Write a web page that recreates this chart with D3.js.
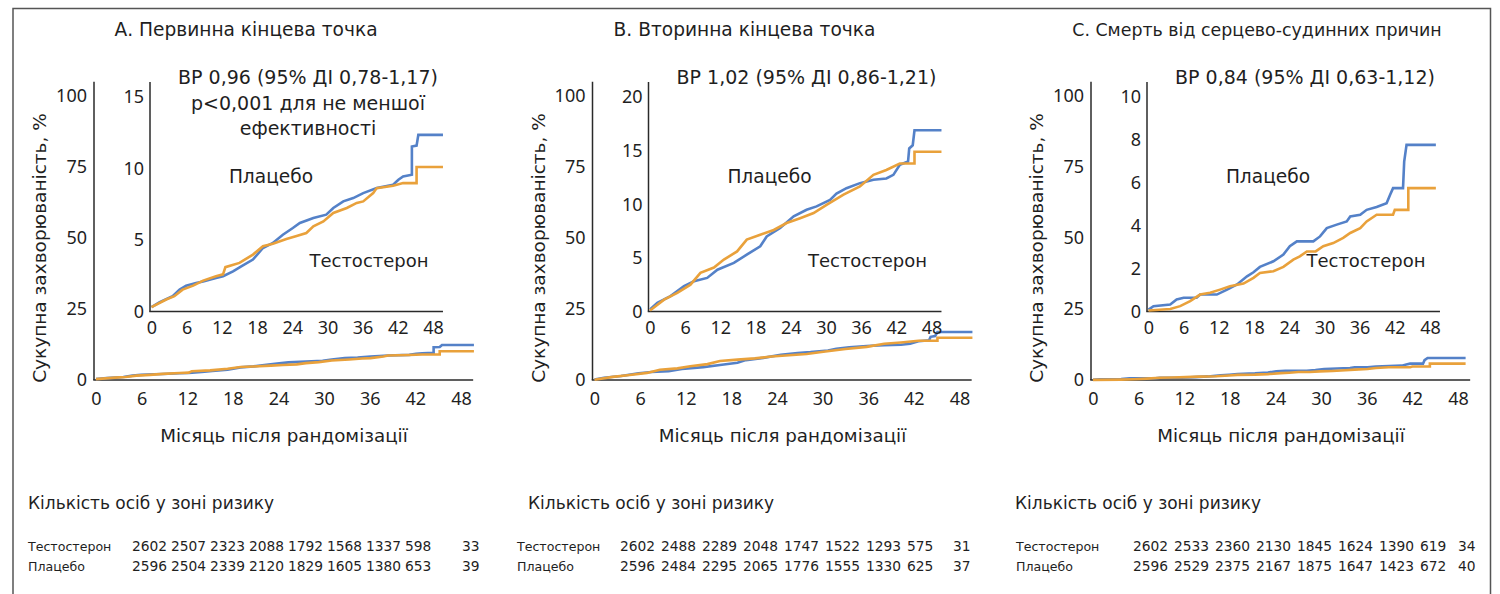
<!DOCTYPE html>
<html><head><meta charset="utf-8">
<script src="https://cdn.jsdelivr.net/npm/d3@7"></script>
<style>
body{margin:0;background:#fff;}
svg{display:block;}
</style></head><body>
<svg id="chart" width="1500" height="594"></svg>
<script>
// ---------- DATA ----------
const monthTicks = [0, 6, 12, 18, 24, 30, 36, 42, 48];
const mainPctTicks = [0, 25, 50, 75, 100];
const insetTicksA = [0, 5, 10, 15];
const insetTicksB = [0, 5, 10, 15, 20];
const insetTicksC = [0, 2, 4, 6, 8, 10];

const titles = ["А. Первинна кінцева точка", "В. Вторинна кінцева точка", "С. Смерть від серцево-судинних причин"];
const hrTexts = [
  ["ВР 0,96 (95% ДІ 0,78-1,17)", "p<0,001 для не меншої", "ефективності"],
  ["ВР 1,02 (95% ДІ 0,86-1,21)"],
  ["ВР 0,84 (95% ДІ 0,63-1,12)"]
];
const groupNames = ["Тестостерон", "Плацебо"];

// Panel A: cumulative incidence (%) by month
const aPlaceboMonths = [0,1.4,3.6,4.8,5.9,7.6,8.8,11,12.2,13.9,15.3,17.3,19.0,20.7,22.4,24.1,25.3,27.6,29.8,31.0,32.7,34.4,36.1,38.4,41.2,42.1,42.9,44.4,44.4,45.2,45.5,49.7];
const aPlaceboPct    = [0.3,0.65,1.07,1.53,1.8,2.0,2.1,2.35,2.47,2.8,3.16,3.63,4.44,4.79,5.37,5.84,6.19,6.54,6.77,7.24,7.7,7.93,8.28,8.63,8.86,9.21,9.44,9.56,11.54,11.6,12.35,12.35];
const aTestoMonths   = [0,2.5,3.9,5.3,7.1,8.8,11,12.2,12.6,15,17.3,19,20.7,23,24.6,26.4,27.6,29.3,31,33.3,35,36.1,37.8,38.4,41.2,42.9,45.2,45.2,49.7];
const aTestoPct      = [0.3,0.84,1.07,1.53,1.81,2.16,2.47,2.6,3.1,3.4,3.98,4.56,4.74,5.07,5.26,5.49,5.95,6.3,6.89,7.24,7.59,7.7,8.28,8.63,8.79,8.98,8.98,10.1,10.1];

// Panel B
const bPlaceboMonths = [0,1.25,3.5,5.8,7.5,9.75,11.5,14.3,16.5,18.8,19.9,22.2,24.5,26.7,28.4,30.7,31.8,33.5,35.8,38.1,40.3,41.5,42.6,44,44.2,44.8,45.1,49.7];
const bPlaceboPct    = [0.19,0.81,1.43,2.36,2.82,3.13,3.9,4.53,5.3,6.08,7.0,7.78,8.87,9.49,9.8,10.4,11.0,11.5,11.97,12.28,12.4,12.74,13.67,13.98,15.2,15.5,16.9,16.9];
const bTestoMonths   = [0,2.4,4.65,6.9,8.6,10.9,12.6,14.85,16.5,18.8,21.1,23.3,25.6,27.9,30.1,33,35.8,38.1,40.3,42.6,45.1,45.1,49.7];
const bTestoPct      = [0.1,1.1,1.74,2.5,3.6,4.1,4.84,5.6,6.7,7.16,7.6,8.25,8.7,9.18,9.95,10.9,11.66,12.74,13.2,13.8,13.8,14.9,14.9];

// Panel C
const cPlaceboMonths = [0,0.85,3.7,4.8,6,8.2,8.8,11.65,13.4,15.1,16.8,17.9,19,21.3,23,24.1,25.3,28.1,29.25,30.4,32.1,33.8,34.4,36.1,37.2,38.9,40.6,41.2,41.7,43.4,43.6,44,49];
const cPlaceboPct    = [0.09,0.25,0.33,0.56,0.64,0.64,0.79,0.79,1.02,1.26,1.64,1.83,2.08,2.34,2.65,3.04,3.27,3.27,3.5,3.89,4.05,4.2,4.43,4.51,4.74,4.87,5.05,5.44,5.75,5.75,6.99,7.77,7.77];
const cTestoMonths   = [0,3.7,5.4,7.1,8.8,10.5,12.2,13.9,16.2,17.9,19,21.3,23,24.7,25.8,27,28.5,29.8,31.5,33.2,34.4,36.1,37.2,38.9,41.7,42,44.3,44.3,49];
const cTestoPct      = [0.05,0.12,0.25,0.48,0.79,0.87,1.02,1.18,1.3,1.57,1.8,1.88,2.08,2.42,2.57,2.8,2.8,3.04,3.19,3.43,3.66,3.89,4.2,4.51,4.51,4.74,4.74,5.75,5.75];

// Numbers at risk
const riskTestoA   = [2602, 2507, 2323, 2088, 1792, 1568, 1337, 598, 33];
const riskPlaceboA = [2596, 2504, 2339, 2120, 1829, 1605, 1380, 653, 39];
const riskTestoB   = [2602, 2488, 2289, 2048, 1747, 1522, 1293, 575, 31];
const riskPlaceboB = [2596, 2484, 2295, 2065, 1776, 1555, 1330, 625, 37];
const riskTestoC   = [2602, 2533, 2360, 2130, 1845, 1624, 1390, 619, 34];
const riskPlaceboC = [2596, 2529, 2375, 2167, 1875, 1647, 1423, 672, 40];

// ---------- LAYOUT / STYLE ----------
const FONT = "'DejaVu Sans', sans-serif";
const TICKFONT = "'Noto Sans', sans-serif";
const TXT = "#1f1f1f";
const AX = "#2a2a2a";
const BLUE = "#5481c8";
const ORANGE = "#e9a13b";
const zip = (m, v) => m.map((d, i) => [d, v[i]]);

const panels = [
  { dx: 0, title: titles[0], titleX: 246, titleSize: 18.6, hr: hrTexts[0], insetTicks: insetTicksA,
    placebo: zip(aPlaceboMonths, aPlaceboPct), testo: zip(aTestoMonths, aTestoPct),
    riskT: riskTestoA, riskP: riskPlaceboA,
    table: { head: 28, lab: 28, start: 132, step: 39, last: 462 } },
  { dx: 498.5, title: titles[1], titleX: 246, titleSize: 18.6, hr: hrTexts[1], insetTicks: insetTicksB,
    placebo: zip(bPlaceboMonths, bPlaceboPct), testo: zip(bTestoMonths, bTestoPct),
    riskT: riskTestoB, riskP: riskPlaceboB,
    table: { head: 528, lab: 517, start: 620, step: 41, last: 953 } },
  { dx: 997, title: titles[2], titleX: 260, titleSize: 17.4, hr: hrTexts[2], insetTicks: insetTicksC,
    placebo: zip(cPlaceboMonths, cPlaceboPct), testo: zip(cTestoMonths, cTestoPct),
    riskT: riskTestoC, riskP: riskPlaceboC,
    table: { head: 1015, lab: 1016, start: 1133, step: 41, last: 1458 } }
];

const svg = d3.select("#chart");

// outer frame
svg.append("path")
  .attr("d", "M13,594 V8.5 H1490.5 V594")
  .attr("fill", "none").attr("stroke", "#555").attr("stroke-width", 1.5);

function styleAxisText(g, size) {
  g.selectAll("text").attr("font-family", TICKFONT).attr("font-size", size).attr("fill", TXT);
}
function label(parent, x, y, txt, size, anchor) {
  return parent.append("text").attr("x", x).attr("y", y)
    .attr("text-anchor", anchor || "middle").attr("font-family", FONT)
    .attr("font-size", size).attr("fill", TXT).text(txt);
}

panels.forEach(p => {
  const g = svg.append("g").attr("transform", `translate(${p.dx},0)`);

  // scales
  const xMain = d3.scaleLinear().domain([0, 48]).range([96, 461]);
  const yMain = d3.scaleLinear().domain([0, 100]).range([380, 96]);
  const insetMax = d3.max(p.insetTicks);
  const xIn = d3.scaleLinear().domain([0, 48]).range([151.5, 433]);
  const yIn = d3.scaleLinear().domain([0, insetMax]).range([311.5, 97]);

  // title
  label(g, p.titleX, 36, p.title, p.titleSize);

  // ---- main axes ----
  const gxM = g.append("g").attr("transform", `translate(0,${yMain(0)})`)
    .call(d3.axisBottom(xMain).tickValues(monthTicks).tickSize(0).tickPadding(12));
  gxM.select(".domain").remove();
  styleAxisText(gxM, 18);
  const gyM = g.append("g").attr("transform", `translate(${xMain(0) - 2},0)`)
    .call(d3.axisLeft(yMain).tickValues(mainPctTicks).tickSize(0).tickPadding(7));
  gyM.select(".domain").remove();
  styleAxisText(gyM, 18);

  g.append("line").attr("x1", xMain(0) - 2).attr("x2", xMain(0) - 2)
    .attr("y1", yMain(105)).attr("y2", yMain(0))
    .attr("stroke", AX).attr("stroke-width", 1.5);
  g.append("line").attr("x1", xMain(0) - 2.75).attr("x2", xMain(49.6))
    .attr("y1", yMain(0)).attr("y2", yMain(0))
    .attr("stroke", AX).attr("stroke-width", 1.5);

  // axis titles
  g.append("text").attr("transform", `translate(46,248) rotate(-90)`)
    .attr("text-anchor", "middle").attr("font-family", FONT).attr("font-size", 18.5)
    .attr("fill", TXT).text("Сукупна захворюваність, %");
  label(g, 284, 442, "Місяць після рандомізації", 18.3);

  // main curves
  const lineM = d3.line().x(d => xMain(d[0])).y(d => yMain(d[1]));
  g.append("path").datum(p.placebo).attr("d", lineM)
    .attr("fill", "none").attr("stroke", BLUE).attr("stroke-width", 2.6);
  g.append("path").datum(p.testo).attr("d", lineM)
    .attr("fill", "none").attr("stroke", ORANGE).attr("stroke-width", 2.6);

  // ---- inset axes ----
  const gxI = g.append("g").attr("transform", `translate(0,${yIn(0)})`)
    .call(d3.axisBottom(xIn).tickValues(monthTicks).tickSize(0).tickPadding(10));
  gxI.select(".domain").remove();
  styleAxisText(gxI, 18);
  const gyI = g.append("g").attr("transform", `translate(${xIn(0) - 1.5},0)`)
    .call(d3.axisLeft(yIn).tickValues(p.insetTicks).tickSize(0).tickPadding(6));
  gyI.select(".domain").remove();
  styleAxisText(gyI, 18);

  g.append("line").attr("x1", xIn(0) - 1.5).attr("x2", xIn(0) - 1.5)
    .attr("y1", yIn(insetMax * 1.07)).attr("y2", yIn(0))
    .attr("stroke", AX).attr("stroke-width", 1.5);
  g.append("line").attr("x1", xIn(0) - 2.25).attr("x2", xIn(49.7))
    .attr("y1", yIn(0)).attr("y2", yIn(0))
    .attr("stroke", AX).attr("stroke-width", 1.5);

  const lineI = d3.line().x(d => xIn(d[0])).y(d => yIn(d[1]));
  g.append("path").datum(p.placebo).attr("d", lineI)
    .attr("fill", "none").attr("stroke", BLUE).attr("stroke-width", 2.6);
  g.append("path").datum(p.testo).attr("d", lineI)
    .attr("fill", "none").attr("stroke", ORANGE).attr("stroke-width", 2.6);

  // annotations
  p.hr.forEach((t, i) => label(g, 308, 84 + i * 25.5, t, 19));
  label(g, 271, 183, groupNames[1], 18.6);
  label(g, 369, 267, groupNames[0], 18);

  // ---- risk table (absolute coords) ----
  const t = p.table;
  label(svg, t.head, 509, "Кількість осіб у зоні ризику", 17, "start");
  const col = d3.scaleLinear().domain([0, 7, 8]).range([t.start, t.start + 7 * t.step, t.last]);
  [[groupNames[0], p.riskT, 551], [groupNames[1], p.riskP, 571]].forEach(([name, vals, yy]) => {
    label(svg, t.lab, yy, name, 12.6, "start");
    vals.forEach((v, i) => label(svg, col(i), yy, v, 13.8, "start"));
  });
});
</script>
</body></html>
